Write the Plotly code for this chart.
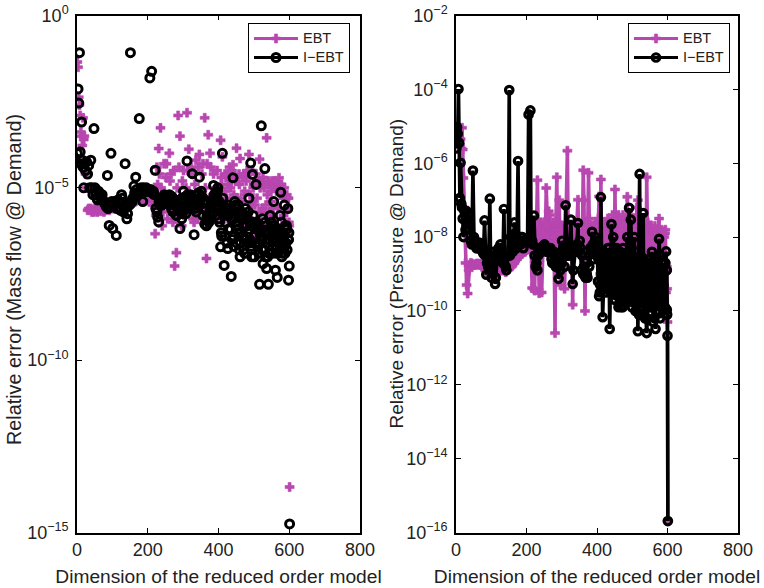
import plotly.graph_objects as go

dims_a = [1,3,5,7,9,11,13,15,17,19,
        21,24,27,30,33,36,39,42,45,48,
        51,56,61,66,71,76,81,86,91,96,
        101,106,111,116,121,126,131,136,141,146,
        151,156,161,166,171,176,181,186,191,196,
        201,206,211,216,221,226,231,236,241,246,
        251,256,261,266,271,276,281,286,291,296,
        301,306,311,316,321,326,331,336,341,346,
        351,356,361,366,371,376,381,386,391,396,
        401,406,411,416,421,426,431,436,441,446,
        451,456,461,466,471,476,481,486,491,496,
        501,506,511,516,521,526,531,536,541,546,
        551,556,561,566,571,576,581,586,591,596,
        598,600,601]
dims_b = [53,58,63,68,73,78,83,88,93,98,
        103,108,113,118,123,128,133,138,143,148,
        153,158,163,168,173,178,183,188,193,198,
        203,208,213,218,223,228,233,238,243,248,
        253,258,263,268,273,278,283,288,293,298,
        303,308,313,318,323,328,333,338,343,348,
        353,358,363,368,373,378,383,388,393,398,
        403,408,413,418,423,428,433,438,443,448,
        453,458,463,468,473,478,483,488,493,498,
        503,508,513,518,523,528,533,538,543,548,
        553,558,563,568,573,578,583,588,593,598]
dims_c = [404,409,414,419,424,429,434,439,444,449,
        454,459,464,469,474,479,484,489,494,499,
        504,509,514,519,524,529,534,539,544,549,
        554,559,564,569,574,579,584,589,594,599]
dims = dims_a + dims_b + dims_c
dims_d = [232,237,242,247,252,257,262,267,272,277,
        282,287,292,297,302,307,312,317,322,327,
        332,337,342,347,352,357,362,367,372,377,
        382,387,392,397,402,407,412,417,422,427,
        432,437,442,447,452,457,462,467,472,477,
        482,487,492,497,502,507,512,517,522,527,
        532,537,542,547,552,557,562,567,572,577,
        582,587,592,597]

# log10 of the relative error
left_ebt = [-1.35,-1.5,-2.37,-2.6,-2.9,-3.38,-3.5,-3.77,-2.97,-3.6,
    -3.5,-4.6,-5.0,-5.65,-5.6,-5.65,-5.6,-5.7,-5.65,-5.7,
    -5.6,-5.65,-5.65,-5.6,-5.65,-5.7,-5.65,-5.6,-5.65,-5.55,
    -5.6,-5.55,-5.6,-5.5,-5.55,-5.5,-5.55,-5.45,-5.5,-5.45,
    -5.4,-5.45,-5.35,-5.4,-5.3,-5.35,-5.25,-5.4,-5.2,-5.36,
    -5.1,-5.2,-5.3,-5.4,-6.33,-4.4,-3.86,-3.26,-6.1,-4.3,
    -4.7,-5.9,-4.0,-4.6,-6.0,-7.27,-6.88,-2.9,-3.5,-6.1,
    -4.5,-5.6,-2.82,-3.88,-5.4,-4.6,-6.0,-4.2,-5.9,-4.03,
    -5.6,-4.3,-2.97,-7.05,-3.46,-4.0,-5.8,-4.6,-5.9,-4.5,
    -5.8,-3.62,-4.1,-5.9,-4.7,-5.7,-4.4,-6.0,-4.33,-5.9,
    -3.85,-5.9,-4.15,-6.0,-4.6,-6.1,-4.5,-4.03,-6.0,-4.5,
    -6.2,-4.6,-6.4,-4.17,-6.3,-4.7,-6.4,-3.55,-4.8,-6.3,
    -4.8,-6.5,-5.0,-6.4,-4.71,-4.9,-6.5,-5.0,-6.1,-5.6,
    -5.3,-6.1,-13.68,
    -5.6,-5.7,-5.62,-5.68,-5.6,-5.65,-5.6,-5.55,-5.6,-5.5,
    -5.6,-5.5,-5.55,-5.45,-5.5,-5.45,-5.5,-5.4,-5.45,-5.4,
    -5.35,-5.4,-5.3,-5.35,-5.25,-5.3,-5.2,-5.35,-5.15,-5.3,
    -5.2,-5.3,-5.5,-5.1,-5.8,-4.9,-4.6,-5.0,-5.7,-5.2,
    -4.3,-5.3,-4.8,-5.6,-4.5,-5.9,-5.0,-4.4,-5.6,-4.8,
    -5.8,-5.0,-4.5,-5.4,-4.4,-5.9,-4.9,-5.7,-4.4,-5.3,
    -4.6,-5.7,-5.0,-4.3,-5.5,-4.4,-5.2,-5.9,-5.0,-5.6,
    -5.0,-4.7,-5.6,-4.6,-5.3,-4.9,-5.8,-4.5,-5.2,-4.8,
    -5.3,-4.6,-5.7,-4.7,-5.2,-4.8,-5.8,-4.6,-5.4,-5.0,
    -5.5,-4.8,-5.9,-5.0,-5.6,-4.9,-6.1,-5.2,-5.7,-5.1,
    -5.6,-4.8,-5.9,-5.0,-6.2,-4.9,-5.3,-6.0,-5.2,-6.3,
    -5.5,-4.9,-5.8,-5.1,-4.6,-5.6,-5.0,-5.9,-4.7,-5.3,
    -5.7,-4.9,-5.4,-5.9,-5.1,-4.6,-6.0,-5.2,-5.5,-4.9,
    -6.1,-5.3,-4.8,-5.7,-6.2,-5.0,-5.5,-6.3,-4.9,-5.4,
    -5.8,-6.4,-5.1,-5.6,-6.5,-5.2,-5.8,-6.6,-5.3,-6.0]

left_iebt = [-4.0,-2.13,-2.54,-1.08,-3.96,-4.3,-3.09,-4.2,-4.4,-5.0,
    -4.3,-4.5,-4.25,-4.6,-4.35,-5.0,-4.2,-5.0,-5.2,-3.28,
    -5.0,-5.3,-5.1,-5.25,-5.2,-5.4,-5.5,-4.64,-6.09,-4.0,
    -6.18,-5.4,-6.38,-5.35,-5.6,-5.2,-5.7,-4.3,-5.9,-5.5,
    -1.08,-5.4,-4.95,-4.69,-5.2,-2.99,-5.0,-5.4,-5.1,-5.0,
    -5.05,-1.81,-1.62,-5.1,-4.49,-5.7,-5.99,-5.3,-5.5,-5.3,
    -5.25,-5.3,-5.2,-5.4,-5.7,-5.4,-5.8,-5.6,-6.18,-5.9,
    -5.1,-5.5,-4.22,-5.5,-5.2,-4.59,-6.36,-5.5,-5.2,-4.69,
    -5.1,-5.8,-6.05,-6.1,-5.9,-5.6,-5.5,-4.93,-5.6,-5.3,
    -5.9,-6.71,-4.0,-7.25,-5.7,-6.76,-5.6,-7.57,-4.71,-5.4,
    -6.6,-5.5,-7.0,-5.7,-6.8,-5.6,-6.6,-5.3,-4.28,-4.61,
    -7.0,-4.9,-6.7,-7.8,-3.2,-7.2,-4.44,-7.34,-7.8,-5.8,
    -6.9,-5.4,-7.39,-7.6,-6.2,-5.13,-6.9,-5.5,-6.6,-5.6,
    -7.68,-7.27,-14.75,
    -5.2,-5.35,-5.15,-5.3,-5.35,-5.45,-5.55,-5.6,-5.5,-5.4,
    -5.5,-5.45,-5.6,-5.4,-5.65,-5.3,-5.6,-5.45,-5.75,-5.5,
    -5.45,-5.3,-5.15,-5.05,-5.2,-5.1,-5.15,-5.0,-5.05,-5.1,
    -5.1,-5.05,-5.15,-5.2,-5.6,-5.85,-5.5,-5.3,-5.4,-5.25,
    -5.3,-5.45,-5.35,-5.25,-5.5,-5.35,-5.8,-5.5,-5.6,-5.75,
    -5.35,-5.75,-5.2,-5.45,-5.55,-5.3,-5.5,-5.45,-5.15,-5.35,
    -5.25,-5.4,-5.65,-5.95,-6.0,-5.7,-5.4,-5.2,-5.3,-5.0,
    -6.0,-6.3,-5.7,-6.4,-5.6,-6.2,-5.7,-6.5,-5.9,-5.5,
    -6.1,-5.7,-6.3,-5.9,-6.5,-5.9,-6.3,-6.0,-6.7,-5.8,
    -6.4,-6.0,-6.6,-6.2,-6.8,-6.3,-7.0,-6.5,-6.9,-6.2,
    -6.5,-6.1,-6.7,-6.3,-6.8,-6.0,-6.4,-6.9,-6.2,-6.5,
    -5.6,-6.4,-5.5,-6.0,-6.6,-5.8,-6.2,-5.9,-6.7,-5.6,
    -6.2,-6.8,-5.9,-6.4,-6.9,-6.1,-5.7,-6.5,-7.0,-6.0,
    -6.6,-6.2,-6.9,-6.4,-5.9,-6.8,-6.3,-7.0,-6.5,-6.0,
    -6.7,-6.2,-6.9,-6.4,-5.8,-7.0,-6.5,-6.1,-6.8,-6.3]

left_iebt_more = [-5.4,-5.5,-5.3,-5.2,-5.35,-5.45,-5.3,-5.6,-5.4,-5.5,
    -5.55,-5.65,-5.7,-5.3,-5.4,-5.25,-5.5,-5.6,-5.35,-5.3,
    -5.6,-5.7,-5.4,-5.3,-5.25,-5.45,-5.35,-5.85,-5.9,-5.8,
    -5.5,-5.35,-5.15,-5.1,-5.4,-5.7,-5.3,-5.8,-5.6,-5.5,
    -6.2,-5.9,-6.4,-5.7,-6.0,-6.3,-6.6,-5.8,-6.1,-6.5,
    -5.9,-6.2,-6.6,-6.0,-6.4,-6.1,-6.7,-6.3,-6.5,-6.8,
    -6.0,-6.6,-6.3,-6.9,-6.1,-6.5,-6.8,-6.2,-6.6,-6.4,
    -6.3,-6.7,-6.1,-6.5]

right_ebt = [-5.45,-5.3,-5.05,-5.2,-5.05,-5.5,-5.35,-5.6,-5.04,-5.63,
    -6.4,-7.2,-8.7,-9.3,-9.53,-8.9,-8.75,-8.7,-8.72,-8.75,
    -8.75,-8.75,-8.72,-8.72,-8.75,-8.8,-8.85,-8.95,-8.9,-9.0,
    -9.0,-9.0,-8.95,-8.95,-8.9,-8.9,-8.9,-8.9,-8.95,-8.85,
    -8.85,-8.8,-8.75,-8.7,-8.6,-8.55,-8.5,-8.45,-8.4,-8.4,
    -8.35,-8.3,-8.25,-9.38,-9.4,-8.0,-6.46,-9.52,-7.6,-8.4,
    -7.6,-6.67,-8.0,-7.4,-8.2,-7.6,-10.6,-6.38,-7.6,-9.3,
    -7.7,-8.2,-7.9,-5.66,-7.8,-8.2,-9.83,-7.6,-8.2,-6.99,
    -8.3,-7.9,-6.19,-10.0,-7.6,-6.26,-8.1,-7.7,-8.3,-7.6,
    -8.4,-6.9,-6.44,-8.6,-7.7,-8.5,-7.5,-8.6,-7.6,-8.4,
    -6.71,-8.6,-7.4,-8.7,-7.5,-8.4,-7.5,-6.91,-8.4,-7.4,
    -8.5,-7.8,-8.6,-7.0,-8.5,-7.6,-8.7,-7.7,-6.38,-8.4,
    -7.75,-9.6,-7.8,-9.7,-7.8,-7.5,-9.6,-7.85,-8.0,-9.5,
    -8.9,-10.3,-15.69,
    -8.75,-8.72,-8.75,-8.75,-8.72,-8.8,-8.9,-8.9,-8.95,-8.95,
    -9.0,-8.95,-8.95,-8.9,-8.9,-8.9,-8.9,-8.9,-8.85,-8.85,
    -8.8,-8.8,-8.7,-8.65,-8.6,-8.5,-8.45,-8.45,-8.4,-8.35,
    -8.3,-8.28,-8.25,-8.4,-9.45,-7.9,-8.2,-7.7,-9.5,-7.9,
    -8.2,-7.7,-7.3,-8.1,-7.8,-8.0,-7.8,-8.1,-7.0,-8.2,
    -7.9,-9.4,-7.7,-7.8,-8.2,-7.9,-8.3,-7.9,-7.6,-8.2,
    -8.0,-8.2,-7.0,-8.0,-8.2,-7.5,-8.3,-7.8,-8.2,-7.7,
    -8.2,-7.8,-8.4,-7.6,-8.3,-7.7,-8.4,-7.9,-8.3,-7.7,
    -8.4,-7.5,-8.3,-7.8,-8.5,-7.6,-8.3,-7.9,-7.5,-8.4,
    -7.6,-9.1,-7.2,-9.0,-7.7,-9.3,-7.5,-8.0,-7.8,-9.1,
    -7.7,-9.2,-7.8,-9.0,-7.9,-8.9,-7.8,-9.3,-7.9,-8.8,
    -7.5,-9.0,-7.8,-9.2,-7.6,-9.1,-7.7,-9.3,-7.4,-8.9,
    -7.6,-9.2,-7.5,-9.3,-7.4,-9.0,-7.6,-9.1,-7.5,-9.2,
    -7.7,-9.3,-7.6,-9.1,-7.8,-9.2,-7.7,-9.3,-7.6,-9.4,
    -7.8,-9.2,-7.7,-9.4,-7.8,-9.3,-7.9,-9.5,-7.8,-9.4]

right_iebt = [-5.6,-5.03,-5.2,-3.99,-5.45,-6.94,-5.99,-7.1,-7.2,-7.5,
    -8.0,-7.3,-7.8,-7.3,-7.55,-7.4,-7.8,-8.1,-8.2,-6.2,
    -8.0,-8.2,-8.3,-8.15,-8.2,-8.4,-7.55,-9.02,-8.8,-6.96,
    -9.1,-8.4,-9.27,-8.5,-8.3,-8.2,-8.6,-7.24,-8.8,-8.5,
    -4.02,-8.0,-8.4,-7.6,-8.3,-5.94,-8.2,-8.0,-8.3,-8.1,
    -8.05,-4.68,-4.57,-8.1,-7.42,-8.8,-8.9,-8.4,-8.3,-8.25,
    -8.2,-8.3,-8.4,-8.3,-8.6,-8.4,-8.7,-8.5,-9.13,-8.9,
    -8.1,-8.5,-7.14,-8.5,-8.2,-7.53,-9.27,-8.4,-8.3,-7.62,
    -8.1,-8.9,-9.0,-9.06,-9.0,-8.5,-8.3,-7.86,-8.6,-8.0,
    -8.4,-9.6,-6.92,-10.17,-8.6,-9.5,-8.3,-10.49,-7.65,-8.0,
    -9.7,-8.3,-9.9,-8.4,-9.7,-8.6,-9.6,-8.0,-7.21,-7.53,
    -9.5,-8.0,-9.8,-10.55,-6.29,-9.6,-7.35,-10.2,-10.6,-8.6,
    -9.8,-8.4,-9.9,-10.49,-8.8,-8.05,-9.8,-8.7,-9.9,-8.39,
    -9.97,-10.67,-15.69,
    -8.1,-8.3,-8.2,-8.3,-8.35,-8.45,-8.5,-8.7,-8.6,-8.5,
    -8.9,-8.5,-9.1,-8.4,-8.6,-8.3,-8.7,-8.6,-8.9,-8.5,
    -8.5,-8.3,-8.1,-7.9,-8.2,-8.1,-8.2,-8.0,-8.1,-8.1,
    -8.1,-8.1,-8.15,-8.2,-8.5,-8.7,-8.5,-8.3,-8.4,-8.3,
    -8.3,-8.4,-8.35,-8.3,-8.7,-8.4,-8.8,-8.6,-8.8,-8.7,
    -8.3,-8.8,-8.2,-8.4,-8.5,-8.3,-8.9,-8.4,-8.2,-8.4,
    -8.3,-8.5,-8.8,-9.1,-9.1,-8.8,-8.4,-8.2,-8.4,-8.1,
    -9.2,-9.5,-8.4,-9.4,-8.5,-9.3,-8.5,-9.4,-8.6,-8.3,
    -9.4,-8.5,-9.8,-8.7,-9.9,-8.6,-9.7,-8.4,-9.5,-8.3,
    -9.7,-8.6,-10.0,-8.8,-9.9,-8.7,-10.1,-8.9,-10.2,-8.6,
    -9.9,-8.7,-10.2,-8.9,-10.0,-8.5,-9.9,-9.3,-9.9,-8.9,
    -8.6,-9.3,-8.4,-9.4,-8.5,-9.4,-8.3,-9.5,-8.7,-9.4,
    -8.4,-9.6,-8.6,-9.9,-8.3,-9.7,-8.5,-9.6,-8.2,-9.9,
    -8.6,-10.0,-8.7,-10.1,-8.5,-9.8,-8.8,-10.2,-8.6,-9.9,
    -8.7,-10.3,-8.8,-10.0,-8.6,-10.2,-8.9,-9.9,-8.7,-10.1]

series_names = ["EBT", "I\u2212EBT"]
x_label = "Dimension of the reduced order model"
y_labels = ["Relative error (Mass flow @ Demand)", "Relative error (Pressure @ Demand)"]
x_ticks = [0, 200, 400, 600, 800]
left_exponents = [0, -5, -10, -15]
right_exponents = [-2, -4, -6, -8, -10, -12, -14, -16]
MAGENTA = "#b847b0"
BLACK = "#000000"
FONT = "Liberation Sans"
TEXT = "#222222"
W, H = 764, 588

def ordered(xvals, vals):
    pairs = sorted(zip(xvals, vals), key=lambda t: t[0])
    return [a for a, _ in pairs], [10 ** b for _, b in pairs]

def tick_text(e):
    s = str(abs(e))
    return "10<sup>" + ("\u2212" if e < 0 else "") + s + "</sup>"

def label(name):
    return '<span style="font-size:14.5px">' + name + "</span>"

fig = go.Figure()
cross = dict(symbol="cross", size=7.5, color=MAGENTA, line=dict(width=0.6, color=MAGENTA))
ring_l = dict(symbol="circle-open", size=8, color=BLACK, line=dict(width=3.0, color=BLACK))
ring_r = dict(symbol="circle-open", size=7.5, color=BLACK, line=dict(width=3.2, color=BLACK))

xs, ys = ordered(dims, left_ebt)
fig.add_trace(go.Scatter(x=xs, y=ys, mode="markers", marker=cross, showlegend=False, xaxis="x", yaxis="y"))
xs, ys = ordered(dims + dims_d, left_iebt + left_iebt_more)
fig.add_trace(go.Scatter(x=xs, y=ys, mode="markers", marker=ring_l, showlegend=False, xaxis="x", yaxis="y"))
xs, ys = ordered(dims, right_ebt)
fig.add_trace(go.Scatter(x=xs, y=ys, mode="lines+markers", marker=cross,
                         line=dict(color=MAGENTA, width=3.6), showlegend=False, xaxis="x2", yaxis="y2"))
xs, ys = ordered(dims, right_iebt)
fig.add_trace(go.Scatter(x=xs, y=ys, mode="lines+markers", marker=ring_r,
                         line=dict(color=BLACK, width=3.6), showlegend=False, xaxis="x2", yaxis="y2"))

# legend keys
for lg, ax, ay, ring in (("legend", "x", "y", ring_l), ("legend2", "x2", "y2", ring_r)):
    fig.add_trace(go.Scatter(x=[None], y=[None], mode="lines+markers", name=label(series_names[0]), legend=lg,
                             marker=cross, line=dict(color=MAGENTA, width=3.2), xaxis=ax, yaxis=ay))
    fig.add_trace(go.Scatter(x=[None], y=[None], mode="lines+markers", name=label(series_names[1]), legend=lg,
                             marker=ring, line=dict(color=BLACK, width=3.2), xaxis=ax, yaxis=ay))

axis_common = dict(showgrid=False, zeroline=False, showline=True, linecolor="#000000", linewidth=1.5,
                   mirror="ticks", ticks="inside", ticklen=5, tickwidth=1, tickcolor="#000000",
                   tickfont=dict(family=FONT, size=18, color=TEXT), automargin=False)
x_title_font = dict(family=FONT, size=19.2, color=TEXT)
legend_common = dict(y=1-23/H, xanchor="left", yanchor="top", bgcolor="white", bordercolor="#000000",
                     borderwidth=1, font=dict(family=FONT, size=12, color=TEXT), itemwidth=44,
                     tracegroupgap=0, entrywidth=46, entrywidthmode="pixels")

fig.update_layout(
    width=W, height=H, autosize=False,
    margin=dict(l=0, r=0, t=0, b=0), paper_bgcolor="white", plot_bgcolor="white",
    showlegend=True,
    xaxis=dict(axis_common, domain=[77/W, 360/W], range=[0, 800], tickvals=x_ticks,
               title=dict(text=x_label, font=x_title_font, standoff=11), anchor="y"),
    yaxis=dict(axis_common, domain=[1-532.5/H, 1-15.5/H], type="log", range=[-15, 0], ticklabelstandoff=3,
               tickvals=[10.0 ** e for e in left_exponents], ticktext=[tick_text(e) for e in left_exponents],
               anchor="x"),
    xaxis2=dict(axis_common, domain=[456/W, 738/W], range=[0, 800], tickvals=x_ticks,
                title=dict(text=x_label, font=x_title_font, standoff=11), anchor="y2"),
    yaxis2=dict(axis_common, domain=[1-532.5/H, 1-15.5/H], type="log", range=[-16, -2], ticklabelstandoff=3,
                tickvals=[10.0 ** e for e in right_exponents], ticktext=[tick_text(e) for e in right_exponents],
                anchor="x2"),
    legend=dict(legend_common, x=248/W),
    legend2=dict(legend_common, x=628/W),
    annotations=[
        dict(text=y_labels[0], xref="paper", yref="paper", x=14/W, y=1-280/H, textangle=-90, showarrow=False,
             xanchor="center", yanchor="middle", font=dict(family=FONT, size=19.8, color=TEXT)),
        dict(text=y_labels[1], xref="paper", yref="paper", x=396/W, y=1-273.5/H, textangle=-90, showarrow=False,
             xanchor="center", yanchor="middle", font=dict(family=FONT, size=19, color=TEXT)),
    ],
)
fig.write_html("out.html", config={"displayModeBar": False}, post_script="document.body.style.margin='0';")
